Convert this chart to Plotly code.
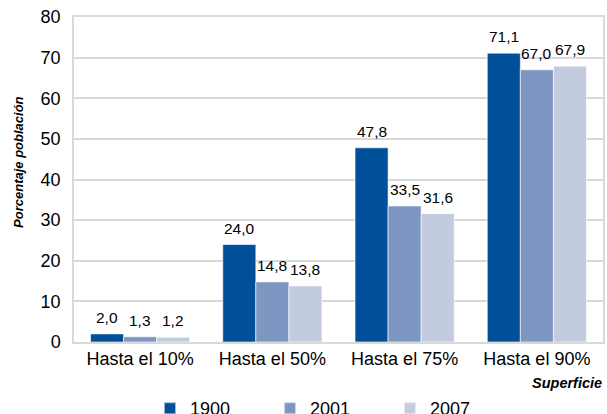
import plotly.graph_objects as go

# Data
categories = ["Hasta el 10%", "Hasta el 50%", "Hasta el 75%", "Hasta el 90%"]
years = ["1900", "2001", "2007"]
values_1900 = [2.0, 24.0, 47.8, 71.1]
values_2001 = [1.3, 14.8, 33.5, 67.0]
values_2007 = [1.2, 13.8, 31.6, 67.9]
y_ticks = [0, 10, 20, 30, 40, 50, 60, 70, 80]

series = [values_1900, values_2001, values_2007]
colors = ["#004f99", "#7e96c2", "#c3cbdf"]

FONT = "Liberation Sans, Arial, sans-serif"

fig = go.Figure()

for name, vals, col in zip(years, series, colors):
    fig.add_trace(go.Bar(
        x=categories, y=vals, name=name,
        marker=dict(color=col, line=dict(color="rgba(255,255,255,0.6)", width=1)),
    ))

# value labels above the bars (comma as decimal separator)
bar_w = 0.25
annotations = []
for j, vals in enumerate(series):
    for i, v in enumerate(vals):
        annotations.append(dict(
            x=i + (j - 1) * bar_w, y=v, xref="x", yref="y",
            text=f"{v:.1f}".replace(".", ","), showarrow=False,
            yanchor="bottom", yshift=6,
            font=dict(family=FONT, size=15.5, color="black"),
        ))

annotations.append(dict(
    text="Porcentaje población", textangle=-90,
    xref="paper", yref="paper", x=-0.104, y=0.554,
    xanchor="center", yanchor="middle", showarrow=False,
    font=dict(family=FONT, size=13, color="black", weight="bold", style="italic"),
))
annotations.append(dict(
    text="Superficie",
    xref="paper", yref="paper", x=1.0, y=-0.125, xshift=1,
    xanchor="right", yanchor="middle", showarrow=False,
    font=dict(family=FONT, size=14.5, color="black", weight="bold", style="italic"),
))

fig.update_layout(
    width=607, height=414,
    margin=dict(l=74, r=4, t=17, b=72, autoexpand=False),
    paper_bgcolor="white", plot_bgcolor="white",
    barmode="group", bargap=0.25, bargroupgap=0,
    font=dict(family=FONT, size=18, color="black"),
    showlegend=True,
    legend=dict(
        orientation="h", x=0.1436, xanchor="left", y=-0.2046, yanchor="middle",
        font=dict(family=FONT, size=18, color="black"),
        entrywidth=75, itemsizing="constant",
    ),
    annotations=annotations,
)

fig.update_xaxes(
    showgrid=False, showline=True, linecolor="#d9d9d9", linewidth=1.5,
    mirror=True, ticks="", tickfont=dict(size=18),
)
fig.update_yaxes(
    range=[0, 80], tickvals=y_ticks, showgrid=True, gridcolor="#d9d9d9",
    gridwidth=1.5, showline=True, linecolor="#d9d9d9", linewidth=1.5,
    mirror=True, ticks="", ticklabelstandoff=8, tickfont=dict(size=18),
    zeroline=False,
)

# page body has a default margin; drop it so the figure fills the window
fig.write_html(
    "out.html",
    config={"displayModeBar": False},
    post_script="document.body.style.margin='0';document.body.style.overflow='hidden';",
)
